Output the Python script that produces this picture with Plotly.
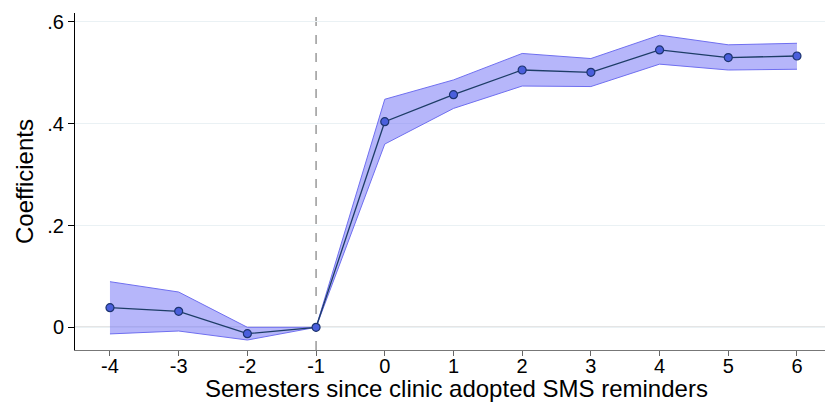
import plotly.graph_objects as go

# Event-study estimates by semester relative to SMS adoption
semesters = [-4, -3, -2, -1, 0, 1, 2, 3, 4, 5, 6]
coef = [0.0385, 0.0314, -0.0125, 0.0, 0.404, 0.457, 0.5055, 0.501, 0.545, 0.530, 0.533]
ci_upper = [0.0896, 0.0693, 0.0, 0.0, 0.448, 0.486, 0.538, 0.528, 0.574, 0.555, 0.558]
ci_lower = [-0.013, -0.0073, -0.025, 0.0, 0.360, 0.430, 0.474, 0.473, 0.517, 0.5055, 0.507]

y_tickvals = [0, 0.2, 0.4, 0.6]
y_ticktext = ["0", ".2", ".4", ".6"]

FONT = "Liberation Sans, Arial, sans-serif"

fig = go.Figure()

# Confidence band
fig.add_trace(go.Scatter(
    x=semesters, y=ci_upper, mode="lines",
    line=dict(color="#6f6ff0", width=1), hoverinfo="skip", showlegend=False,
))
fig.add_trace(go.Scatter(
    x=semesters, y=ci_lower, mode="lines", fill="tonexty",
    fillcolor="rgba(110,110,245,0.5)",
    line=dict(color="#6f6ff0", width=1), hoverinfo="skip", showlegend=False,
))

# Point estimates
fig.add_trace(go.Scatter(
    x=semesters, y=coef, mode="lines+markers",
    line=dict(color="#1d3d66", width=1.3),
    marker=dict(size=8, color="#4a5fdc", line=dict(color="#1d3470", width=1.2)),
    showlegend=False,
))

# Reference lines
fig.add_hline(y=0, line=dict(color="#7f7f7f", width=1), layer="below")
fig.add_vline(x=-1, line=dict(color="#8a8a8a", width=1.3, dash="dash"), layer="below")

# Axis titles placed as annotations for precise spacing
fig.add_annotation(
    text="Semesters since clinic adopted SMS reminders",
    xref="paper", yref="paper", x=0.508, y=-0.1157,
    xanchor="center", yanchor="middle", showarrow=False,
    font=dict(size=24),
)
fig.add_annotation(
    text="Coefficients", textangle=-90,
    xref="paper", yref="paper", x=-0.0667, y=0.5015,
    xanchor="center", yanchor="middle", showarrow=False,
    font=dict(size=24),
)

fig.update_layout(
    width=825, height=406,
    margin=dict(l=75, r=0, t=13, b=56),
    paper_bgcolor="white", plot_bgcolor="white",
    font=dict(family=FONT, color="black", size=20),
    xaxis=dict(
        range=[-4.509, 6.408],
        tickvals=semesters, ticktext=[str(s) for s in semesters],
        ticks="outside", ticklen=5, tickcolor="#666", tickwidth=1,
        ticklabelstandoff=-7,
        showline=True, linecolor="#777", linewidth=1,
        showgrid=False, zeroline=False,
        tickfont=dict(size=20),
    ),
    yaxis=dict(
        range=[-0.0446, 0.6175],
        tickvals=y_tickvals, ticktext=y_ticktext,
        ticks="outside", ticklen=6, tickcolor="black", tickwidth=1,
        showline=True, linecolor="black", linewidth=1,
        showgrid=True, gridcolor="#eaf1f4", gridwidth=1,
        zeroline=False,
        tickfont=dict(size=20),
    ),
)

fig.write_html("out.html")
